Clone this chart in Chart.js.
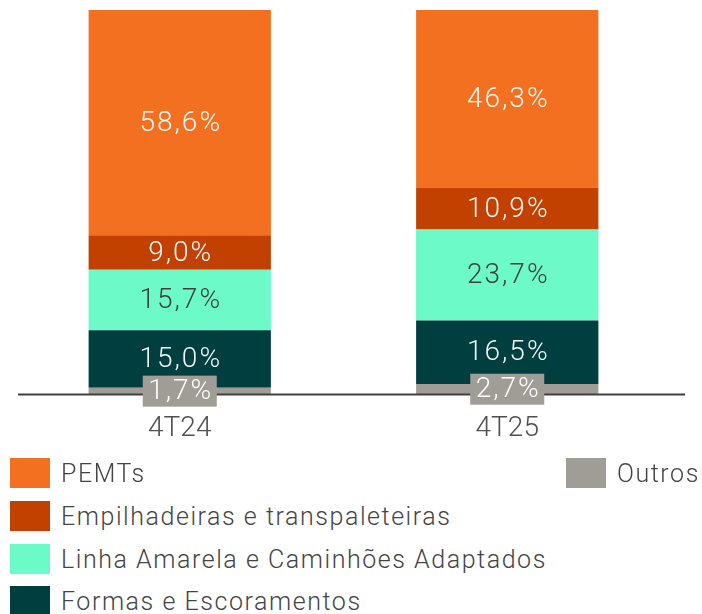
<!DOCTYPE html>
<html>
<head>
<meta charset="utf-8">
<script src="https://cdn.jsdelivr.net/npm/chart.js@4.4.1/dist/chart.umd.min.js"></script>
<style>
  body { margin: 0; background: #fff; }
  #wrap { position: relative; width: 702px; height: 614px; overflow: hidden; }
  #box { position: absolute; left: 0; top: 0; width: 702px; height: 470px; }
  .leg { position: absolute; height: 30px; display: flex; align-items: center;
         font-family: Roboto, sans-serif; font-weight: 300; font-size: 25px; letter-spacing: 1.55px;
         color: #444; white-space: nowrap; }
  .leg span.sw { display: inline-block; width: 40px; height: 30px; margin-right: 11px; }
</style>
</head>
<body>
<div id="wrap">
  <div id="box"><canvas id="grafico"></canvas></div>
  <div id="legenda"></div>
</div>
<script>
// Dados do gráfico (% da receita por linha)
const categorias = ['4T24', '4T25'];
const outros = [1.7, 2.7];
const formas = [15.0, 16.5];
const linhaAmarela = [15.7, 23.7];
const empilhadeiras = [9.0, 10.9];
const pemts = [58.6, 46.3];

const series = [
    { nome: 'Outros', dados: outros, cor: '#A09D96', texto: '#FFFFFF', caixa: true },
    { nome: 'Formas e Escoramentos', dados: formas, cor: '#003F40', texto: '#F4F4F4' },
    { nome: 'Linha Amarela e Caminhões Adaptados', dados: linhaAmarela, cor: '#6BFAC8', texto: '#3F3F3F' },
    { nome: 'Empilhadeiras e transpaleteiras', dados: empilhadeiras, cor: '#C24100', texto: '#F8F8F8' },
    { nome: 'PEMTs', dados: pemts, cor: '#F37021', texto: '#F8F8F8' }
];

const fmt = v => v.toFixed(1).replace('.', ',') + '%';

// Linha de base no zero
const linhaBase = {
    id: 'linhaBase',
    afterDatasetsDraw(chart) {
        const c = chart.ctx;
        const y = chart.scales.y.getPixelForValue(0);
        c.save();
        c.strokeStyle = '#404040';
        c.lineWidth = 2;
        c.beginPath();
        c.moveTo(18, y);
        c.lineTo(685, y);
        c.stroke();
        c.restore();
    }
};

// Rótulos dentro das barras
const rotulos = {
    id: 'rotulos',
    afterDraw(chart) {
        const c = chart.ctx;
        c.save();
        c.font = '300 28px Roboto, sans-serif';
        c.letterSpacing = '2px';
        c.textAlign = 'center';
        c.textBaseline = 'middle';
        chart.data.datasets.forEach((ds, i) => {
            const s = series[i];
            chart.getDatasetMeta(i).data.forEach((bar, j) => {
                const x = bar.x;
                const y = (bar.y + bar.base) / 2;
                const txt = fmt(ds.data[j]);
                if (s.caixa) {
                    const w = 74;
                    c.fillStyle = s.cor;
                    c.fillRect(x - w / 2, y - 15.5, w, 31);
                }
                c.fillStyle = s.texto;
                c.fillText(txt, x + 1, y + 1);
            });
        });
        c.restore();
    }
};

new Chart(document.getElementById('grafico').getContext('2d'), {
    type: 'bar',
    data: {
        labels: categorias,
        datasets: series.map(s => ({
            label: s.nome,
            data: s.dados,
            backgroundColor: s.cor,
            borderWidth: 0,
            categoryPercentage: 0.5566,
            barPercentage: 1
        }))
    },
    options: {
        responsive: true,
        maintainAspectRatio: false,
        animation: false,
        layout: { padding: { top: 10, left: 16, right: 31, bottom: 6 } },
        plugins: {
            legend: { display: false },
            tooltip: { enabled: false }
        },
        scales: {
            x: {
                stacked: true,
                grid: { display: false, drawTicks: false },
                border: { display: false },
                ticks: {
                    color: '#505050',
                    padding: 18,
                    font: { family: 'Roboto', size: 28, weight: '300' }
                }
            },
            y: {
                stacked: true,
                display: false,
                min: 0,
                max: 100
            }
        }
    },
    plugins: [linhaBase, rotulos]
});

// Legenda em HTML (duas colunas como no original)
const posLegenda = {
    'PEMTs': [10, 458],
    'Empilhadeiras e transpaleteiras': [10, 501],
    'Linha Amarela e Caminhões Adaptados': [10, 544],
    'Formas e Escoramentos': [10, 586],
    'Outros': [566, 458]
};
const leg = document.getElementById('legenda');
series.slice().reverse().forEach(s => {
    const p = posLegenda[s.nome];
    const d = document.createElement('div');
    d.className = 'leg';
    d.style.left = p[0] + 'px';
    d.style.top = p[1] + 'px';
    d.innerHTML = '<span class="sw" style="background:' + s.cor + '"></span>' + s.nome;
    leg.appendChild(d);
});
</script>
</body>
</html>
